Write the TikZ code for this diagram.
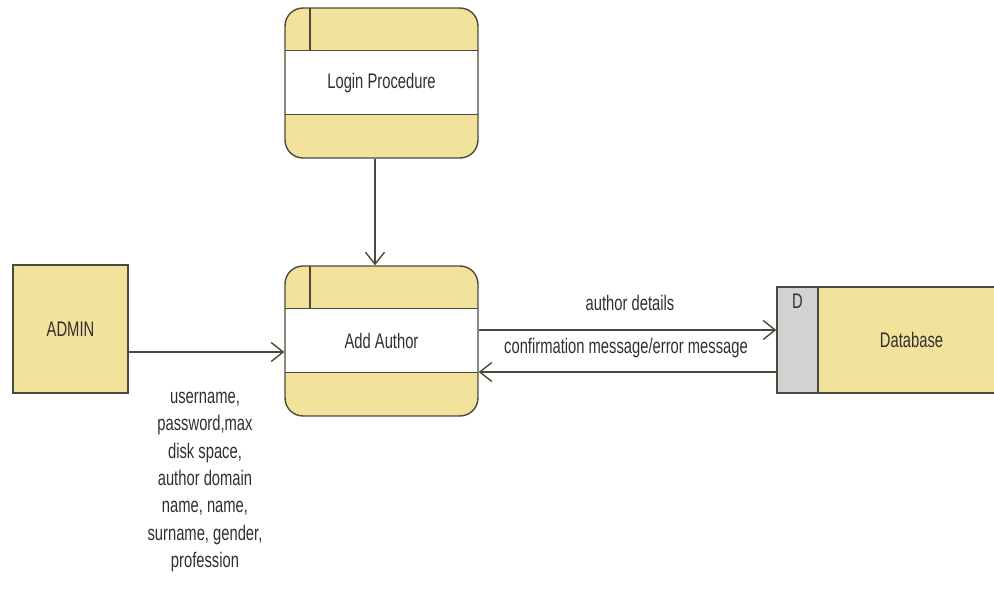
\documentclass[tikz,border=0pt]{standalone}
\usepackage{fontspec}
\setmainfont{Liberation Sans}[FakeStretch=0.7]
\usetikzlibrary{arrows.meta}

\definecolor{dfdyellow}{HTML}{F2E29B}
\definecolor{dfdgray}{HTML}{D2D2D2}
\definecolor{dfdline}{HTML}{4A4A3C}
\definecolor{dfdtext}{HTML}{303030}

\tikzset{
	dfdfont/.style={font=\fontsize{12}{15.6}\selectfont, text=dfdtext},
	process/.style={draw=dfdline, line width=0.8pt, fill=dfdyellow, rounded corners=0.36cm,
		minimum width=3.86cm, minimum height=3cm, dfdfont,
		path picture={
			\fill[white, sharp corners] ([yshift=-0.85cm]path picture bounding box.north west) rectangle ([yshift=0.87cm]path picture bounding box.south east);
			\draw[dfdline, line width=0.8pt] ([yshift=-0.85cm]path picture bounding box.north west) -- ([yshift=-0.85cm]path picture bounding box.north east);
			\draw[dfdline, line width=0.8pt] ([yshift=0.87cm]path picture bounding box.south west) -- ([yshift=0.87cm]path picture bounding box.south east);
			\draw[dfdline, line width=0.8pt] ([xshift=0.5cm]path picture bounding box.north west) -- ([xshift=0.5cm,yshift=-0.85cm]path picture bounding box.north west);
		}},
	entity/.style={draw=dfdline, line width=0.8pt, fill=dfdyellow, minimum width=2.3cm, minimum height=2.56cm, dfdfont},
	storeid/.style={draw=dfdline, line width=0.8pt, fill=dfdgray, minimum width=0.82cm, minimum height=2.12cm},
	store/.style={draw=dfdline, line width=0.8pt, fill=dfdyellow, minimum width=3.74cm, minimum height=2.12cm, dfdfont},
	flow/.style={draw=dfdline, line width=0.8pt, -{Straight Barb[length=0.24cm, width=0.38cm]}},
	flowlabel/.style={dfdfont, align=center}
}

\begin{document}
\begin{tikzpicture}[x=0.02cm, y=-0.02cm]
	\useasboundingbox (0,0) rectangle (994,605);

	% processes
	\node[process] (login) at (381.5,83) {Login Procedure};
	\node[process] (add) at (381.5,341) {Add Author};

	% external entity
	\node[entity] (admin) at (70.5,329) {ADMIN};

	% data store
	\node[storeid] (dbid) at (797.5,340) {};
	\node[dfdfont, below=1pt] (dtag) at (dbid.north) {D};
	\node[store] (db) at (911.5,340) {Database};

	% flows
	\draw[flow] ([xshift=-0.13cm]login.south) -- ([xshift=-0.13cm]add.north);
	\draw[flow] (admin.east |- 0,352) -- (add.west |- 0,352);
	\draw[flow] (add.east |- 0,330) -- (dbid.west |- 0,330);
	\draw[flow] (dbid.west |- 0,372) -- (add.east |- 0,372);

	\node[flowlabel] (details) at (630,303) {author details};
	\node[flowlabel] (confirm) at (626,348) {confirmation message/error message};
	\node[flowlabel] (userdata) at (205,482) {username,\\password,max\\disk space,\\author domain\\name, name,\\surname, gender,\\profession};
\end{tikzpicture}
\end{document}
